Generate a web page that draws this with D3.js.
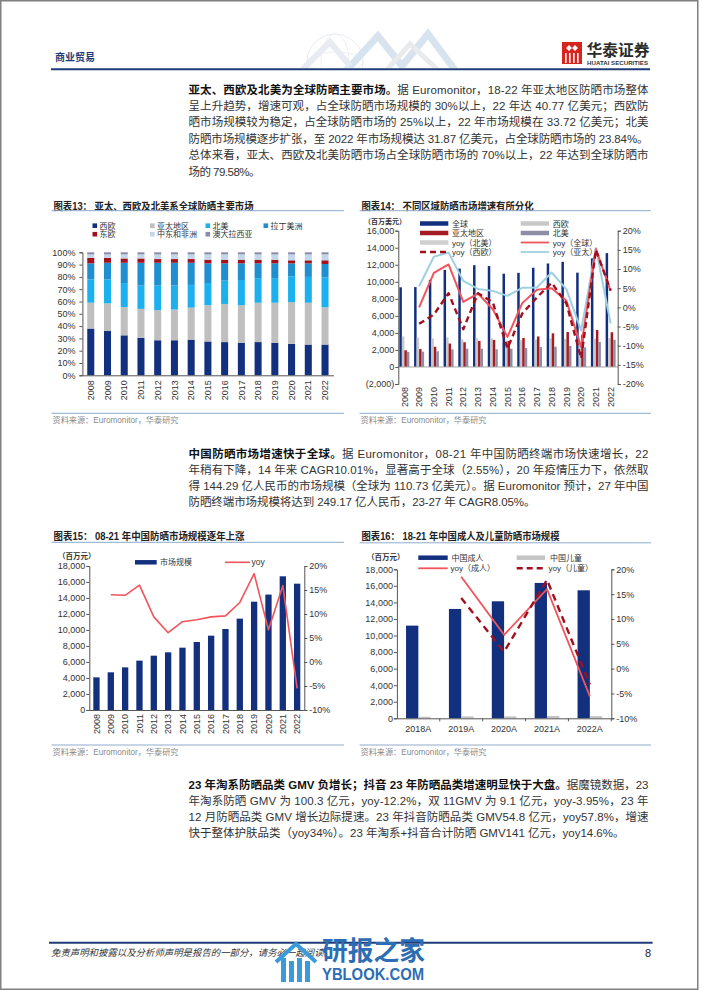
<!DOCTYPE html>
<html><head><meta charset="utf-8">
<script src="https://cdn.jsdelivr.net/npm/d3@7"></script>
<style>body{margin:0;background:#fff}svg{display:block}</style>
</head><body>
<svg id="page" width="702" height="991"></svg>
<script>
// ---------------- DATA ----------------
const years = ["2008","2009","2010","2011","2012","2013","2014","2015","2016","2017","2018","2019","2020","2021","2022"];

// Chart 13: share of global sun care market (%)
const regions13 = ["西欧","亚太地区","北美","拉丁美洲","东欧","中东和非洲","澳大拉西亚"];
const shareWE  = [38,36,32.5,30.5,28.5,28.5,29,27.5,27,26.5,27,26.5,25.5,25,25];
const shareAP  = [21,22.5,23,23.5,24.5,25,26,29.5,31,30.5,32,32.5,34,34,30.3];
const shareNA  = [19,19.5,19.5,19,20,19.5,18.5,18,19,20.5,20,20,21,21,24.2];
const shareLA  = [13,13.5,16.5,18.5,18.5,18.5,18,16,14,13.5,12,12,10.5,11,11];
const shareEE  = [4.5,4,3.5,3.5,3,3,3,3,3,3,3,3,2.5,2.5,3];
const shareMEA = [2.8,2.8,3.3,3.3,3.8,3.8,3.8,4.3,4.3,4.3,4.3,4.3,4.8,4.8,4.8];
const shareAU  = [1.7,1.7,1.7,1.7,1.7,1.7,1.7,1.7,1.7,1.7,1.7,1.7,1.7,1.7,1.7];

// Chart 14: market size (USD mn) and yoy (%)
const salesGlobal = [9350,9380,10230,11400,11550,11950,11850,10950,11050,11650,12150,12350,11073,12750,13368];
const salesWE     = [3580,3420,3350,3480,3250,3380,3380,3080,3150,3230,3350,3300,2950,3320,3372];
const salesAP     = [1960,2100,2370,2750,2900,3050,3180,3050,3400,3580,3950,4100,3800,4350,4077];
const salesNA     = [1760,1800,1840,2070,2150,2150,2070,2150,2230,2340,2380,2460,2300,2930,3187];
const yoyGlobal   = [null,0,9,11.2,1.4,3.6,-0.5,-7.7,1.1,4.6,5,1.7,-10.3,15.2,4.3];
const yoyWE       = [null,-4.3,-1.9,3.7,-5.7,3.7,1.3,-10.7,-1.6,2.6,6.4,1,-13.3,15,4.4];
const yoyAP       = [null,5.5,13.2,14.3,6.9,4.8,4.3,3,5.1,5.2,9.1,4.7,-6,15.5,-4.2];
const ticks14L = [-2000,0,2000,4000,6000,8000,10000,12000,14000,16000];
const ticks14R = [-20,-15,-10,-5,0,5,10,15,20];

// Chart 15: China market (CNY mn) and yoy (%)
const cnMarket = [4080,4710,5330,6170,6790,7210,7790,8500,9290,10125,11420,13540,14429,16710,15790];
const cnYoy    = [null,14,13.9,16,9.4,6.1,8.4,8.8,9.4,9.6,12.4,18.4,6.7,15.9,-5.5];
const ticksCnL = [0,2000,4000,6000,8000,10000,12000,14000,16000,18000];
const ticksCnR = [-10,-5,0,5,10,15,20];

// Chart 16: adult / children
const cats16 = ["2018A","2019A","2020A","2021A","2022A"];
const adult  = [11195,13210,14135,16350,15465];
const child  = [190,230,240,280,265];
const yoyAdult = [null,18.5,6.8,16,-5.6];
const yoyChild = [null,14.2,3.4,17.9,-3.2];

// ---------------- STYLE ----------------
const FONT = "'Liberation Sans', Arial, 'Noto Sans CJK SC', sans-serif";
const NAVY = "#13307f";
const svg = d3.select("#page");

function styleAxis(g){
  g.attr("font-size",9).attr("font-family",FONT);
  g.selectAll("text").attr("fill","#333");
  g.selectAll("path,line").attr("stroke","#555");
}
function txt(x,y,s,opt={}){
  const t = svg.append("text").attr("x",x).attr("y",y).text(s)
    .attr("font-family",opt.family||FONT).attr("font-size",opt.size||9)
    .attr("fill",opt.fill||"#333");
  if(opt.bold) t.attr("font-weight","bold");
  if(opt.anchor) t.attr("text-anchor",opt.anchor);
  if(opt.len) t.attr("textLength",opt.len).attr("lengthAdjust","spacingAndGlyphs");
  if(opt.italic) t.attr("font-style","italic");
  return t;
}
function line(x1,y1,x2,y2,stroke,w,dash){
  const l = svg.append("line").attr("x1",x1).attr("y1",y1).attr("x2",x2).attr("y2",y2)
    .attr("stroke",stroke).attr("stroke-width",w);
  if(dash) l.attr("stroke-dasharray",dash);
  return l;
}

// ---------------- PAGE FRAME / HEADER ----------------
svg.append("rect").attr("x",0.75).attr("y",0.75).attr("width",697).attr("height",988.5)
  .attr("fill","none").attr("stroke","#808080").attr("stroke-width",1.5);

// header decoration (faint globe + zigzag)
const deco = svg.append("g").attr("opacity",0.4);
deco.append("clipPath").attr("id","dclip").append("rect").attr("x",260).attr("y",25).attr("width",200).attr("height",43);
const dg = deco.append("g").attr("clip-path","url(#dclip)");
dg.append("circle").attr("cx",335).attr("cy",62).attr("r",28).attr("fill","none").attr("stroke","#c9d0da").attr("stroke-width",1);
dg.append("ellipse").attr("cx",335).attr("cy",62).attr("rx",14).attr("ry",28).attr("fill","none").attr("stroke","#d3d9e1").attr("stroke-width",1);
dg.append("ellipse").attr("cx",335).attr("cy",62).attr("rx",28).attr("ry",10).attr("fill","none").attr("stroke","#d3d9e1").attr("stroke-width",1);
dg.append("polyline").attr("points","345,72 378,36 402,66 428,34 455,70").attr("fill","none").attr("stroke","#9fbadb").attr("stroke-width",7);
dg.append("polyline").attr("points","300,72 330,42 350,66").attr("fill","none").attr("stroke","#c6d2e0").attr("stroke-width",6);
dg.append("polyline").attr("points","385,72 410,44 440,72").attr("fill","none").attr("stroke","#c9ccd2").attr("stroke-width",5);

txt(55,60.8,"商业贸易",{size:10.5,bold:true,fill:"#1f3c7a",len:40});
line(51,69.3,650,69.3,"#1f3c78",2);

// logo
const logo = svg.append("g");
logo.append("rect").attr("x",562).attr("y",42).attr("width",20).attr("height",22).attr("fill","#d7251d");
logo.append("path").attr("d","M566,48 L569,45 L572,48 L569,51 Z M572,48 L575,45 L578,48 L575,51 Z").attr("fill","#fff");
[565,569,573,577].forEach(x=>logo.append("rect").attr("x",x).attr("y",53).attr("width",1.6).attr("height",10).attr("fill","#fff"));
txt(586.5,56,"华泰证券",{size:16,bold:true,fill:"#2b2b2b",len:63});
txt(587,64.5,"HUATAI SECURITIES",{size:5.5,bold:true,fill:"#333",len:61});

// ---------------- PARAGRAPHS ----------------
function para(lines,x,y0,lh,widths){
  lines.forEach((segs,i)=>{
    const t = svg.append("text").attr("x",x).attr("y",y0+i*lh)
      .attr("font-family",FONT).attr("font-size",11.5).attr("fill","#333");
    if(widths[i]) t.attr("textLength",widths[i]).attr("lengthAdjust","spacing");
    segs.forEach(([s,b])=>t.append("tspan").text(s).attr("font-weight",b?"bold":"normal").attr("fill",b?"#111":"#333"));
  });
}
const P1 = [
 [["亚太、西欧及北美为全球防晒主要市场。",true],["据 Euromonitor，18-22 年亚太地区防晒市场整体",false]],
 [["呈上升趋势，增速可观，占全球防晒市场规模的 30%以上，22 年达 40.77 亿美元；西欧防",false]],
 [["晒市场规模较为稳定，占全球防晒市场的 25%以上，22 年市场规模在 33.72 亿美元；北美",false]],
 [["防晒市场规模逐步扩张，至 2022 年市场规模达 31.87 亿美元，占全球防晒市场的 23.84%。",false]],
 [["总体来看，亚太、西欧及北美防晒市场占全球防晒市场的 70%以上，22 年达到全球防晒市",false]],
 [["场的 79.58%。",false]]
];
para(P1,188.5,93.5,16.4,[460,460,460,460,460,72]);
const P2 = [
 [["中国防晒市场增速快于全球。",true],["据 Euromonitor，08-21 年中国防晒终端市场快速增长，22",false]],
 [["年稍有下降，14 年来 CAGR10.01%，显著高于全球（2.55%），20 年疫情压力下，依然取",false]],
 [["得 144.29 亿人民币的市场规模（全球为 110.73 亿美元）。据 Euromonitor 预计，27 年中国",false]],
 [["防晒终端市场规模将达到 249.17 亿人民币，23-27 年 CAGR8.05%。",false]]
];
para(P2,188.5,457.5,16.2,[460,460,460,347]);
const P3 = [
 [["23 年淘系防晒品类 GMV 负增长；抖音 23 年防晒品类增速明显快于大盘。",true],["据魔镜数据，23",false]],
 [["年淘系防晒 GMV 为 100.3 亿元，yoy-12.2%，双 11GMV 为 9.1 亿元，yoy-3.95%，23 年",false]],
 [["12 月防晒品类 GMV 增长边际提速。23 年抖音防晒品类 GMV54.8 亿元，yoy57.8%，增速",false]],
 [["快于整体护肤品类（yoy34%）。23 年淘系+抖音合计防晒 GMV141 亿元，yoy14.6%。",false]]
];
para(P3,188.5,788.8,15.9,[460,460,460,436]);

// ---------------- CHART FRAMES ----------------
function frame(x,title,tlen,ty,ly,lx2,sy){
  txt(x+1,ty+3.5,title,{size:10,bold:true,fill:"#222",len:tlen});
  line(x-1,ly,lx2,ly,"#8eaacb",1);
  line(x-1,sy,lx2,sy,"#8eaacb",1);
  txt(x,sy+10,"资料来源：Euromonitor，华泰研究",{size:8.5,fill:"#8a8a8a",len:126});
}
frame(52.5,"图表13：  亚太、西欧及北美系全球防晒主要市场",200,206,210.7,344,413.3);
frame(360.5,"图表14：  不同区域防晒市场增速有所分化",172,206,210.7,651,413.3);
frame(52.5,"图表15：  08-21 年中国防晒市场规模逐年上涨",191,536.7,542.3,344,745);
frame(360.5,"图表16：  18-21 年中国成人及儿童防晒市场规模",198,536.7,542.8,651,745);

// ---------------- CHART 13 ----------------
(function(){
  const colors = [NAVY,"#bfbfbf","#1cb1ee","#1f8fcf","#a3111d","#c3d6ea","#8b8ca9"];
  const keys = ["WE","AP","NA","LA","EE","MEA","AU"];
  const rows = years.map((y,i)=>({year:y,WE:shareWE[i],AP:shareAP[i],NA:shareNA[i],LA:shareLA[i],EE:shareEE[i],MEA:shareMEA[i],AU:shareAU[i]}));
  const series = d3.stack().keys(keys)(rows);
  const x = d3.scaleBand().domain(years).range([82.4,333.4]).paddingInner(0.58).paddingOuter(0.29);
  const y = d3.scaleLinear().domain([0,100]).range([375.3,252.3]);
  const g = svg.append("g");
  g.selectAll("g").data(series).join("g").attr("fill",(d,i)=>colors[i])
   .selectAll("rect").data(d=>d).join("rect")
   .attr("x",d=>x(d.data.year)).attr("width",x.bandwidth())
   .attr("y",d=>y(d[1])).attr("height",d=>y(d[0])-y(d[1]));
  const ya = svg.append("g").attr("transform","translate(82.4,0)")
    .call(d3.axisLeft(y).tickValues([0,10,20,30,40,50,60,70,80,90,100]).tickFormat(d=>d+"%").tickSize(3).tickPadding(4));
  styleAxis(ya);
  const xa = svg.append("g").attr("transform","translate(0,375.3)")
    .call(d3.axisBottom(x).tickSize(0).tickSizeOuter(0));
  styleAxis(xa);
  xa.selectAll("text").attr("transform","rotate(-90)").attr("text-anchor","end").attr("x",-5).attr("y",0).attr("dy","0.35em");
  // legend
  const lx = [92.5,150,205.5,263.5], lyy = [225.7,234.2];
  regions13.forEach((name,i)=>{
    const cx = lx[i%4], cy = lyy[Math.floor(i/4)];
    svg.append("rect").attr("x",cx).attr("y",cy-2.3).attr("width",4.6).attr("height",4.6).attr("fill",colors[i]);
    txt(cx+7,cy+2.8,name,{size:8,fill:"#333"});
  });
})();

// ---------------- CHART 14 ----------------
(function(){
  const x = d3.scaleBand().domain(years).range([397,618]);
  const keys = ["g","we","ap","na"];
  const vals = {g:salesGlobal,we:salesWE,ap:salesAP,na:salesNA};
  const colors = {g:NAVY,we:"#c8c8c8",ap:"#a51b23",na:"#8d8da6"};
  const sub = d3.scaleBand().domain(keys).range([0,10]);
  const yL = d3.scaleLinear().domain([-2000,16000]).range([384,230.7]);
  const yR = d3.scaleLinear().domain([-20,20]).range([384,230.7]);
  const off = (x.bandwidth()-10)/2;
  keys.forEach(k=>{
    svg.append("g").attr("fill",colors[k]).selectAll("rect").data(years).join("rect")
      .attr("x",(d)=>x(d)+off+sub(k)).attr("width",sub.bandwidth())
      .attr("y",(d,i)=>yL(vals[k][i])).attr("height",(d,i)=>yL(0)-yL(vals[k][i]));
  });
  line(398,yL(0),618,yL(0),"#a6a6a6",1);
  const cx = d=>x(d)+x.bandwidth()/2;
  function drawLine(arr,color,w,dash){
    const l = d3.line().defined(d=>d[1]!=null).x(d=>cx(d[0])).y(d=>yR(d[1]));
    const p = svg.append("path").datum(years.map((y,i)=>[y,arr[i]])).attr("d",l)
      .attr("fill","none").attr("stroke",color).attr("stroke-width",w).attr("stroke-linejoin","round");
    if(dash) p.attr("stroke-dasharray",dash);
  }
  drawLine(yoyAP,"#9fd0e2",2);
  drawLine(yoyGlobal,"#f0545c",2);
  drawLine(yoyWE,"#a0101e",2.4,"6,4");
  const ya = svg.append("g").attr("transform","translate(398.3,0)")
    .call(d3.axisLeft(yL).tickValues(ticks14L).tickFormat(d=>d<0?"("+d3.format(",")(-d)+")":d3.format(",")(d)).tickSize(3).tickPadding(1));
  styleAxis(ya);
  const yr = svg.append("g").attr("transform","translate(617.7,0)")
    .call(d3.axisRight(yR).tickValues(ticks14R).tickFormat(d=>d+"%").tickSize(3).tickPadding(2));
  styleAxis(yr);
  const xa = svg.append("g").attr("transform","translate(0,384)")
    .call(d3.axisBottom(x).tickSize(0).tickSizeOuter(0));
  styleAxis(xa); xa.select(".domain").remove();
  xa.selectAll("text").attr("transform","rotate(-90)").attr("text-anchor","end").attr("x",-3).attr("y",0).attr("dy","0.35em");
  // legend
  txt(364,224.3,"（百万美元）",{size:7,bold:true,fill:"#333"});
  const L = [
    {x:420,y:223.5,t:"全球",type:"bar",c:NAVY},
    {x:520.7,y:223.5,t:"西欧",type:"bar",c:"#c8c8c8"},
    {x:420,y:233,t:"亚太地区",type:"bar",c:"#a51b23"},
    {x:520.7,y:233,t:"北美",type:"bar",c:"#8d8da6"},
    {x:420,y:242.5,t:"yoy（北美）",type:"bar",c:"#cfcfcf"},
    {x:520.7,y:242.5,t:"yoy（全球）",type:"line",c:"#f0545c"},
    {x:420,y:252,t:"yoy（西欧）",type:"dash",c:"#a0101e"},
    {x:520.7,y:252,t:"yoy（亚太）",type:"line",c:"#9fd0e2"}
  ];
  L.forEach(d=>{
    if(d.type==="bar") line(d.x,d.y,d.x+28.3,d.y,d.c,4.5);
    else if(d.type==="line") line(d.x,d.y,d.x+28.3,d.y,d.c,1.8);
    else line(d.x,d.y,d.x+28.3,d.y,d.c,2.4,"6,4");
    txt(d.x+32,d.y+3,d.t,{size:8,fill:"#333"});
  });
})();

// ---------------- CHART 15 ----------------
(function(){
  const x = d3.scaleBand().domain(years).range([89.3,304.3]).paddingInner(0.56).paddingOuter(0.28);
  const yL = d3.scaleLinear().domain([0,18000]).range([710,566]);
  const yR = d3.scaleLinear().domain([-10,20]).range([710,566]);
  svg.append("g").attr("fill",NAVY).selectAll("rect").data(years).join("rect")
    .attr("x",d=>x(d)).attr("width",x.bandwidth())
    .attr("y",(d,i)=>yL(cnMarket[i])).attr("height",(d,i)=>yL(0)-yL(cnMarket[i]));
  const cx = d=>x(d)+x.bandwidth()/2;
  svg.append("path").datum(years.map((y,i)=>[y,cnYoy[i]]))
    .attr("d",d3.line().defined(d=>d[1]!=null).x(d=>cx(d[0])).y(d=>yR(d[1])))
    .attr("fill","none").attr("stroke","#f0545c").attr("stroke-width",1.6).attr("stroke-linejoin","round");
  const ya = svg.append("g").attr("transform","translate(89.3,0)")
    .call(d3.axisLeft(yL).tickValues(ticksCnL).tickFormat(d3.format(",")).tickSize(3).tickPadding(1));
  styleAxis(ya);
  const yr = svg.append("g").attr("transform","translate(304.3,0)")
    .call(d3.axisRight(yR).tickValues(ticksCnR).tickFormat(d=>d+"%").tickSize(3).tickPadding(2));
  styleAxis(yr);
  const xa = svg.append("g").attr("transform","translate(0,710)")
    .call(d3.axisBottom(x).tickSize(0).tickSizeOuter(0));
  styleAxis(xa);
  xa.selectAll("text").attr("transform","rotate(-90)").attr("text-anchor","end").attr("x",-4).attr("y",0).attr("dy","0.35em");
  txt(58,558.5,"（百万元）",{size:7.5,bold:true,fill:"#333"});
  line(135,562.3,156.7,562.3,NAVY,4.5);
  txt(160,565.3,"市场规模",{size:8,fill:"#333"});
  line(225,562.3,250,562.3,"#f0545c",1.6);
  txt(251.5,565.3,"yoy",{size:8.5,fill:"#333"});
})();

// ---------------- CHART 16 ----------------
(function(){
  const x = d3.scaleBand().domain(cats16).range([396.9,611.3]);
  const yL = d3.scaleLinear().domain([0,18000]).range([718.3,569.3]);
  const yR = d3.scaleLinear().domain([-10,20]).range([718.3,569.3]);
  const bw = x.bandwidth()*0.287;
  const cx = d=>x(d)+x.bandwidth()/2;
  svg.append("g").attr("fill",NAVY).selectAll("rect").data(cats16).join("rect")
    .attr("x",d=>cx(d)-bw).attr("width",bw)
    .attr("y",(d,i)=>yL(adult[i])).attr("height",(d,i)=>yL(0)-yL(adult[i]));
  svg.append("g").attr("fill","#c4c4c4").selectAll("rect").data(cats16).join("rect")
    .attr("x",d=>cx(d)).attr("width",bw)
    .attr("y",(d,i)=>yL(child[i])).attr("height",(d,i)=>yL(0)-yL(child[i]));
  const lg = d3.line().defined(d=>d[1]!=null).x(d=>cx(d[0])).y(d=>yR(d[1]));
  svg.append("path").datum(cats16.map((c,i)=>[c,yoyAdult[i]])).attr("d",lg)
    .attr("fill","none").attr("stroke","#f0545c").attr("stroke-width",1.8);
  svg.append("path").datum(cats16.map((c,i)=>[c,yoyChild[i]])).attr("d",lg)
    .attr("fill","none").attr("stroke","#a0101e").attr("stroke-width",2.4).attr("stroke-dasharray","7,5");
  const ya = svg.append("g").attr("transform","translate(396.9,0)")
    .call(d3.axisLeft(yL).tickValues(ticksCnL).tickFormat(d3.format(",")).tickSize(3).tickPadding(1));
  styleAxis(ya);
  const yr = svg.append("g").attr("transform","translate(611.3,0)")
    .call(d3.axisRight(yR).tickValues(ticksCnR).tickFormat(d=>d+"%").tickSize(3).tickPadding(2));
  styleAxis(yr);
  const xa = svg.append("g").attr("transform","translate(0,718.3)")
    .call(d3.axisBottom(x).tickSize(0).tickSizeOuter(0).tickPadding(7));
  styleAxis(xa);
  cats16.forEach(c=>line(x(c)+x.bandwidth(),718.3,x(c)+x.bandwidth(),721.3,"#555",1));
  txt(367,559.5,"（百万元）",{size:7.5,bold:true,fill:"#333"});
  line(418.3,557.7,447.7,557.7,NAVY,4.5);
  txt(451.5,560.7,"中国成人",{size:8,fill:"#333"});
  line(516.7,557.7,545,557.7,"#c4c4c4",4.5);
  txt(550,560.7,"中国儿童",{size:8,fill:"#333"});
  line(418.3,568.3,447.7,568.3,"#f0545c",1.8);
  txt(450.5,571.3,"yoy（成人）",{size:8,fill:"#333"});
  line(516.7,568.3,545,568.3,"#a0101e",2.4,"6,4");
  txt(548.5,571.3,"yoy（儿童）",{size:8,fill:"#333"});
})();

// ---------------- FOOTER ----------------
line(49,942.7,652.6,942.7,"#1f3c78",2);
txt(51,956.2,"免责声明和披露以及分析师声明是报告的一部分，请务必一起阅读。",{size:9.3,italic:true,fill:"#333",len:282});
txt(648,956.5,"8",{size:11,anchor:"middle",fill:"#222"});
// watermark
const wm = svg.append("g");
wm.append("polyline").attr("points","276,962 296,944 316,962").attr("fill","none").attr("stroke","#3b9ad9").attr("stroke-width",4);
[281,289,297,305].forEach((x,i)=>wm.append("rect").attr("x",x).attr("y",958+ (i%2)*3).attr("width",5).attr("height",24-(i%2)*3).attr("fill","#3b9ad9"));
txt(322,960,"研报之家",{size:26,bold:true,fill:"#2d6db4",len:103});
txt(322,980,"YBLOOK.COM",{size:16,bold:true,fill:"#2d6db4",len:102});
</script>
</body></html>
